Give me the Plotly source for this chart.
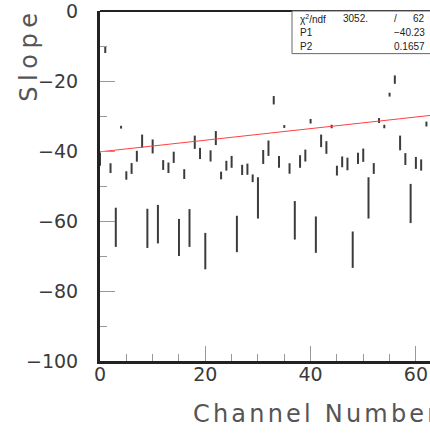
import plotly.graph_objects as go

channels = list(range(63))
slope = [-42.3, -11.0, -44.9, -61.8, -33.2, -47.0, -45.0, -41.5, -37.2, -62.1,
         -38.7, -60.9, -44.0, -44.8, -41.8, -64.7, -46.6, -62.0, -37.5, -40.7,
         -68.6, -41.4, -36.3, -47.0, -44.2, -43.1, -63.7, -45.4, -45.2, -47.8,
         -53.4, -41.7, -39.2, -25.5, -43.1, -33.0, -45.0, -59.8, -43.0, -41.3,
         -31.5, -63.9, -37.1, -39.0, -33.0, -45.6, -43.1, -43.7, -68.2, -42.1,
         -41.2, -53.4, -45.0, -31.3, -33.0, -23.9, -19.6, -37.7, -42.3, -55.0,
         -43.4, -44.0, -32.3]
slope_err = [1.9, 1.0, 1.4, 5.6, 0.4, 1.2, 1.55, 1.55, 1.9, 5.6,
             2.0, 5.5, 1.4, 1.5, 1.6, 5.3, 1.4, 5.4, 1.9, 1.6,
             5.2, 1.6, 2.0, 1.1, 1.4, 1.7, 5.2, 1.45, 1.6, 1.1,
             5.9, 2.0, 2.2, 1.2, 1.7, 0.4, 1.5, 5.5, 1.8, 1.7,
             0.65, 5.2, 1.8, 1.8, 0.5, 1.4, 1.55, 1.8, 5.2, 1.6,
             1.9, 5.9, 1.55, 0.7, 0.5, 0.55, 1.2, 2.1, 1.7, 5.6,
             1.7, 1.6, 0.7]

p1 = -40.23
p2 = 0.1657
chi2 = "3052."
ndf = "62"
fit_x = [0, 64]
fit_y = [p1 + p2 * x for x in fit_x]

x_ticks = [0, 20, 40, 60]
y_ticks = [0, -20, -40, -60, -80, -100]

TXT = "#3a3a3a"
FONT = "DejaVu Sans"

fig = go.Figure()
fig.add_trace(go.Scatter(
    x=channels, y=slope, mode="markers",
    marker=dict(size=0.1, color="rgba(0,0,0,0)"),
    error_y=dict(type="data", array=slope_err, visible=True,
                 color="#3c3c3c", thickness=2, width=0),
    showlegend=False, hoverinfo="skip"))
fig.add_trace(go.Scatter(
    x=fit_x, y=fit_y, mode="lines",
    line=dict(color="#ff4040", width=1), showlegend=False, hoverinfo="skip"))

fig.update_layout(
    width=430, height=438,
    margin=dict(l=100, r=0, t=8, b=77),
    paper_bgcolor="white", plot_bgcolor="white",
    font=dict(family=FONT, color=TXT),
    xaxis=dict(range=[0, 62.68], tickvals=x_ticks, ticks="inside", ticklen=15,
               tickwidth=1, tickcolor="#999",
               minor=dict(dtick=5, ticks="inside", ticklen=7, tickcolor="#999", tickwidth=1),
               showgrid=False, zeroline=False, showline=True, linewidth=3,
               linecolor="#222", tickfont=dict(size=19, color=TXT),
               ticklabelstandoff=-6, ticklabeloverflow="allow"),
    yaxis=dict(range=[-100, 0], tickvals=y_ticks, ticks="inside", ticklen=15,
               tickwidth=1, tickcolor="#999",
               minor=dict(dtick=10, ticks="inside", ticklen=7, tickcolor="#999", tickwidth=1),
               showgrid=False, zeroline=False, showline=True, linewidth=3,
               linecolor="#222", tickfont=dict(size=19, color=TXT),
               ticklabelstandoff=15, ticklabeloverflow="allow"),
)

# top frame line
fig.add_shape(type="line", xref="paper", yref="paper", x0=0, x1=1, y0=1, y1=1,
              line=dict(color="#222", width=2))
# stats box
fig.add_shape(type="rect", xref="paper", yref="paper",
              x0=(292 - 100) / 330, x1=1.05, y0=(361 - 51) / 353, y1=1,
              line=dict(color="#666", width=1), fillcolor="white", layer="above")

def px_x(p):
    return (p - 100) / 330

def px_y(p):
    return (361 - p) / 353

stat_font = dict(family="Liberation Sans", size=10, color="#222")
rows = [
    ("χ<sup>2</sup>/ndf", 16),
    ("P1", 30),
    ("P2", 44),
]
for label, yc in rows:
    fig.add_annotation(text=label, xref="paper", yref="paper", x=px_x(298), y=px_y(yc),
                       xanchor="left", yanchor="middle", showarrow=False, font=stat_font)
fig.add_annotation(text=chi2, xref="paper", yref="paper", x=px_x(370), y=px_y(16),
                   xanchor="right", yanchor="middle", showarrow=False, font=stat_font)
fig.add_annotation(text="/", xref="paper", yref="paper", x=px_x(395), y=px_y(16),
                   xanchor="center", yanchor="middle", showarrow=False, font=stat_font)
fig.add_annotation(text=ndf, xref="paper", yref="paper", x=px_x(427), y=px_y(16),
                   xanchor="right", yanchor="middle", showarrow=False, font=stat_font)
fig.add_annotation(text=f"{p1:.2f}".replace("-", "\u2212"), xref="paper", yref="paper",
                   x=px_x(427), y=px_y(30),
                   xanchor="right", yanchor="middle", showarrow=False, font=stat_font)
fig.add_annotation(text=f"{p2:.4f}", xref="paper", yref="paper", x=px_x(427), y=px_y(44),
                   xanchor="right", yanchor="middle", showarrow=False, font=stat_font)

# axis titles
fig.add_annotation(text='<span style="letter-spacing:3.2px">Channel Number</span>',
                   xref="paper", yref="paper", x=px_x(191), y=px_y(414),
                   xanchor="left", yanchor="middle", showarrow=False,
                   font=dict(family=FONT, size=24, color="#555"))
fig.add_annotation(text='<span style="letter-spacing:5.5px">Slope</span>',
                   xref="paper", yref="paper", x=px_x(29), y=px_y(52),
                   xanchor="center", yanchor="middle", textangle=-90, showarrow=False,
                   font=dict(family=FONT, size=24, color="#555"))

fig.write_html("out.html", config={"displayModeBar": False},
               post_script="document.body.style.margin='0';document.body.style.overflow='hidden';")
